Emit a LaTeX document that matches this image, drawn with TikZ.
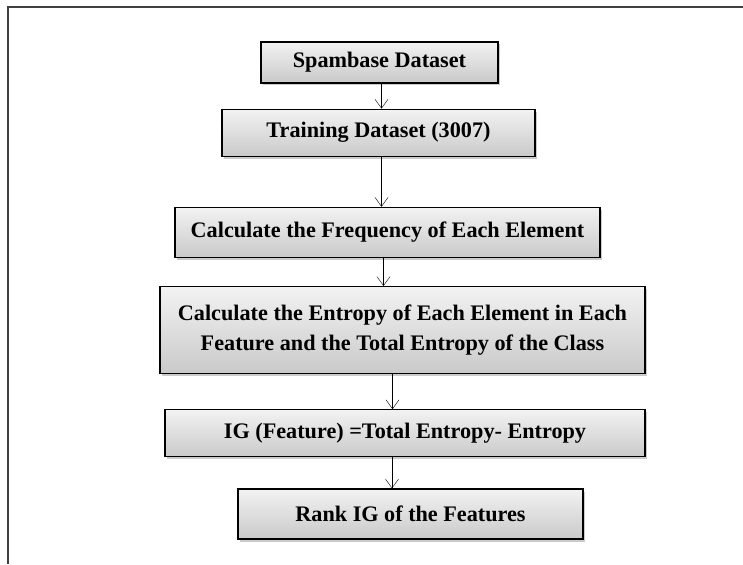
\documentclass[tikz,border=0pt]{standalone}
\usepackage{fontspec}
\setmainfont{Liberation Serif}
\usepackage{tikz}
\usetikzlibrary{shapes,arrows.meta,positioning,shadows}
\tikzstyle{arrow} = [thin,-{Straight Barb[length=9pt,width=13pt]}]
\tikzstyle{process} = [rectangle, draw=black, line width=1.2pt, align=center,
    top color=gray!10, bottom color=gray!42,
    drop shadow={shadow xshift=1.5pt, shadow yshift=-2.5pt, fill=black!45, opacity=.45},
    font=\bfseries\fontsize{22.2}{30.5}\selectfont]

\begin{document}
\begin{tikzpicture}[x=1pt, y=-1pt]
    \useasboundingbox (0,0) rectangle (743,564);
    % frame
    \draw [line width=2pt, black!75] (743,7) -- (8,7) -- (8,564);

    \node (spam) [process, minimum width=237pt, minimum height=41pt] at (379.5,62.5) {Spambase Dataset};
    \node (train) [process, below=25pt of spam, xshift=-1pt, minimum width=313pt, minimum height=47pt] {Training Dataset (3007)};
    \node (freq) [process, below=50pt of train, xshift=9pt, minimum width=425pt, minimum height=50pt] {Calculate the Frequency of Each Element};
    \node (entr) [process, below=28pt of freq, xshift=15pt, minimum width=485pt, minimum height=87pt] {Calculate the Entropy of Each Element in Each \\ Feature and the Total Entropy of the Class};
    \node (ig) [process, below=35pt of entr, xshift=2.5pt, minimum width=480pt, minimum height=47pt] {IG (Feature) =Total Entropy- Entropy};
    \node (rank) [process, below=31pt of ig, xshift=5.5pt, minimum width=345pt, minimum height=50pt] {Rank IG of the Features};

    \draw [arrow] ([xshift=2pt]spam.south) -- ([xshift=2pt]spam.south |- train.north);
    \draw [arrow] ([xshift=3pt]train.south) -- ([xshift=3pt]train.south |- freq.north);
    \draw [arrow] ([xshift=-4pt]freq.south) -- ([xshift=-4pt]freq.south |- entr.north);
    \draw [arrow] ([xshift=-10pt]entr.south) -- ([xshift=-10pt]entr.south |- ig.north);
    \draw [arrow] ([xshift=-13pt]ig.south) -- ([xshift=-13pt]ig.south |- rank.north);
\end{tikzpicture}
\end{document}
